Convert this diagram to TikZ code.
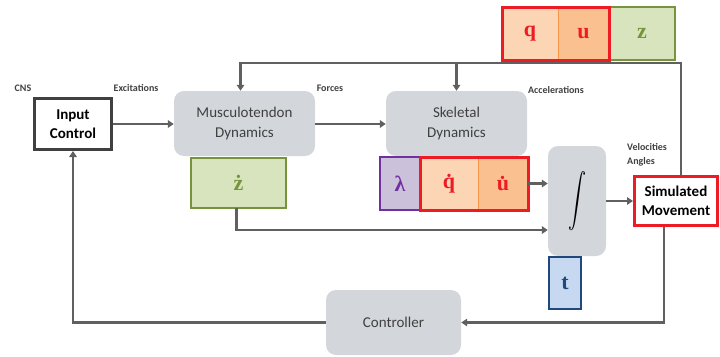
\documentclass[tikz,border=0pt]{standalone}
\usepackage{amsmath}
\usepackage{fontspec}
\setmainfont{Carlito}
\newfontfamily\letterfont{Liberation Serif}
\usetikzlibrary{positioning,arrows.meta}
\definecolor{linegray}{HTML}{606060}
\definecolor{dyngray}{HTML}{D3D6DA}
\definecolor{txtgray}{HTML}{404040}
\definecolor{redb}{HTML}{ED1C24}
\definecolor{qfill}{HTML}{FCD5B5}
\definecolor{ufill}{HTML}{FAC090}
\definecolor{udiv}{HTML}{F79646}
\definecolor{gfill}{HTML}{D7E4BD}
\definecolor{gdraw}{HTML}{77933C}
\definecolor{pfill}{HTML}{CCC1DA}
\definecolor{pdraw}{HTML}{7030A0}
\definecolor{bfill}{HTML}{C6D9F1}
\definecolor{bdraw}{HTML}{1F497D}
\begin{document}
\begin{tikzpicture}[x=1pt, y=-1pt,
     node distance = 0pt and 0pt,
                >= {Triangle[length=6pt,width=7.5pt]},
       link/.style = {draw=linegray, line width=2.8pt},
     dynbox/.style = {rectangle, rounded corners=10pt, fill=dyngray, align=center,
                      text=txtgray, font=\fontsize{15}{20}\selectfont},
     wbox/.style   = {rectangle, fill=white, line width=3pt, align=center,
                      text=black, font=\fontsize{15}{19}\selectfont\bfseries},
     lbox/.style   = {rectangle, minimum height=53pt, outer sep=0pt, line width=1pt,
                      font=\letterfont\fontsize{22}{24}\selectfont\bfseries},
     obox/.style   = {lbox, draw=udiv, text=redb},
     gbox/.style   = {lbox, fill=gfill, draw=gdraw, line width=2pt, text=gdraw},
     redline/.style= {draw=redb, line width=3pt},
     lbl/.style    = {text=txtgray, font=\fontsize{10}{12}\selectfont\bfseries, inner sep=0pt}
                        ]
\useasboundingbox (0,0) rectangle (720,356);
\node (ic)   [wbox, draw=txtgray, minimum width=77pt, minimum height=51pt] at (73,124) {Input\\Control};
\node (mus)  [dynbox, minimum width=141pt, minimum height=65pt] at (244.5,123.5) {Musculotendon\\Dynamics};
\node (skel) [dynbox, minimum width=141pt, minimum height=65pt] at (456.5,123.5) {Skeletal\\Dynamics};
\node (int)  [dynbox, minimum width=58pt, minimum height=110pt] at (577,201)
             {\textcolor{black}{\scalebox{1.25}[1.85]{$\displaystyle\int$}}};
\node (ctl)  [dynbox, minimum width=135pt, minimum height=65pt] at (393.5,322.5) {Controller};
\node (sim)  [wbox, draw=redb, minimum width=83pt, minimum height=49pt] at (676,201) {Simulated\\Movement};
\node (zdot) [gbox, minimum width=95pt, minimum height=50pt] at (238.5,183) {\.z};
\node (lam)  [lbox, fill=pfill, draw=pdraw, line width=2pt, text=pdraw, minimum width=40pt] at (400,183.5) {λ};
\node (qdot) [obox, fill=qfill, minimum width=58pt, right=of lam] {\.q};
\node (udot) [obox, fill=ufill, minimum width=50pt, right=of qdot] {\.u};
\draw[redline] (qdot.north west) rectangle (udot.south east);
\node (q)    [obox, fill=qfill, minimum width=56pt] at (530,33.5) {q};
\node (u)    [obox, fill=ufill, minimum width=51pt, right=of q] {u};
\node (z)    [gbox, minimum width=66pt, right=of u] {z};
\draw[redline] (q.north west) rectangle (u.south east);
\node (t)    [lbox, fill=bfill, draw=bdraw, line width=2pt, text=bdraw, minimum width=32pt, minimum height=52pt] at (565,283) {t};
\node (cns)  [lbl] at (23,88) {CNS};
\node (exc)  [lbl] at (136,88) {Excitations};
\node (frc)  [lbl] at (330,88) {Forces};
\node (acc)  [lbl] at (556,90) {Accelerations};
\node (vel)  [lbl, anchor=west, align=left] at (627,155) {Velocities\\[2pt]Angles};
\coordinate (fb) at (681,63);
\draw[link,->] (ic.east) -- (ic.east -| mus.west);
\draw[link,->] (mus.east |- ic.east) -- (skel.west |- ic.east);
\draw[link,->] (fb |- sim.north) -- (fb) -| ([xshift=-4pt]mus.north);
\draw[link,->] (skel.north |- fb) -- (skel.north);
\draw[link,->] (udot.east) -- (udot.east -| int.west);
\draw[link,->] (int) -- (sim);
\draw[link,->] ([xshift=-2pt]zdot.south) |- ([yshift=-29pt]int.west);
\draw[link,->] ([xshift=-12pt]sim.south) |- (ctl.east);
\draw[link,->] (ctl.west) -| (ic.south);
\end{tikzpicture}
\end{document}
